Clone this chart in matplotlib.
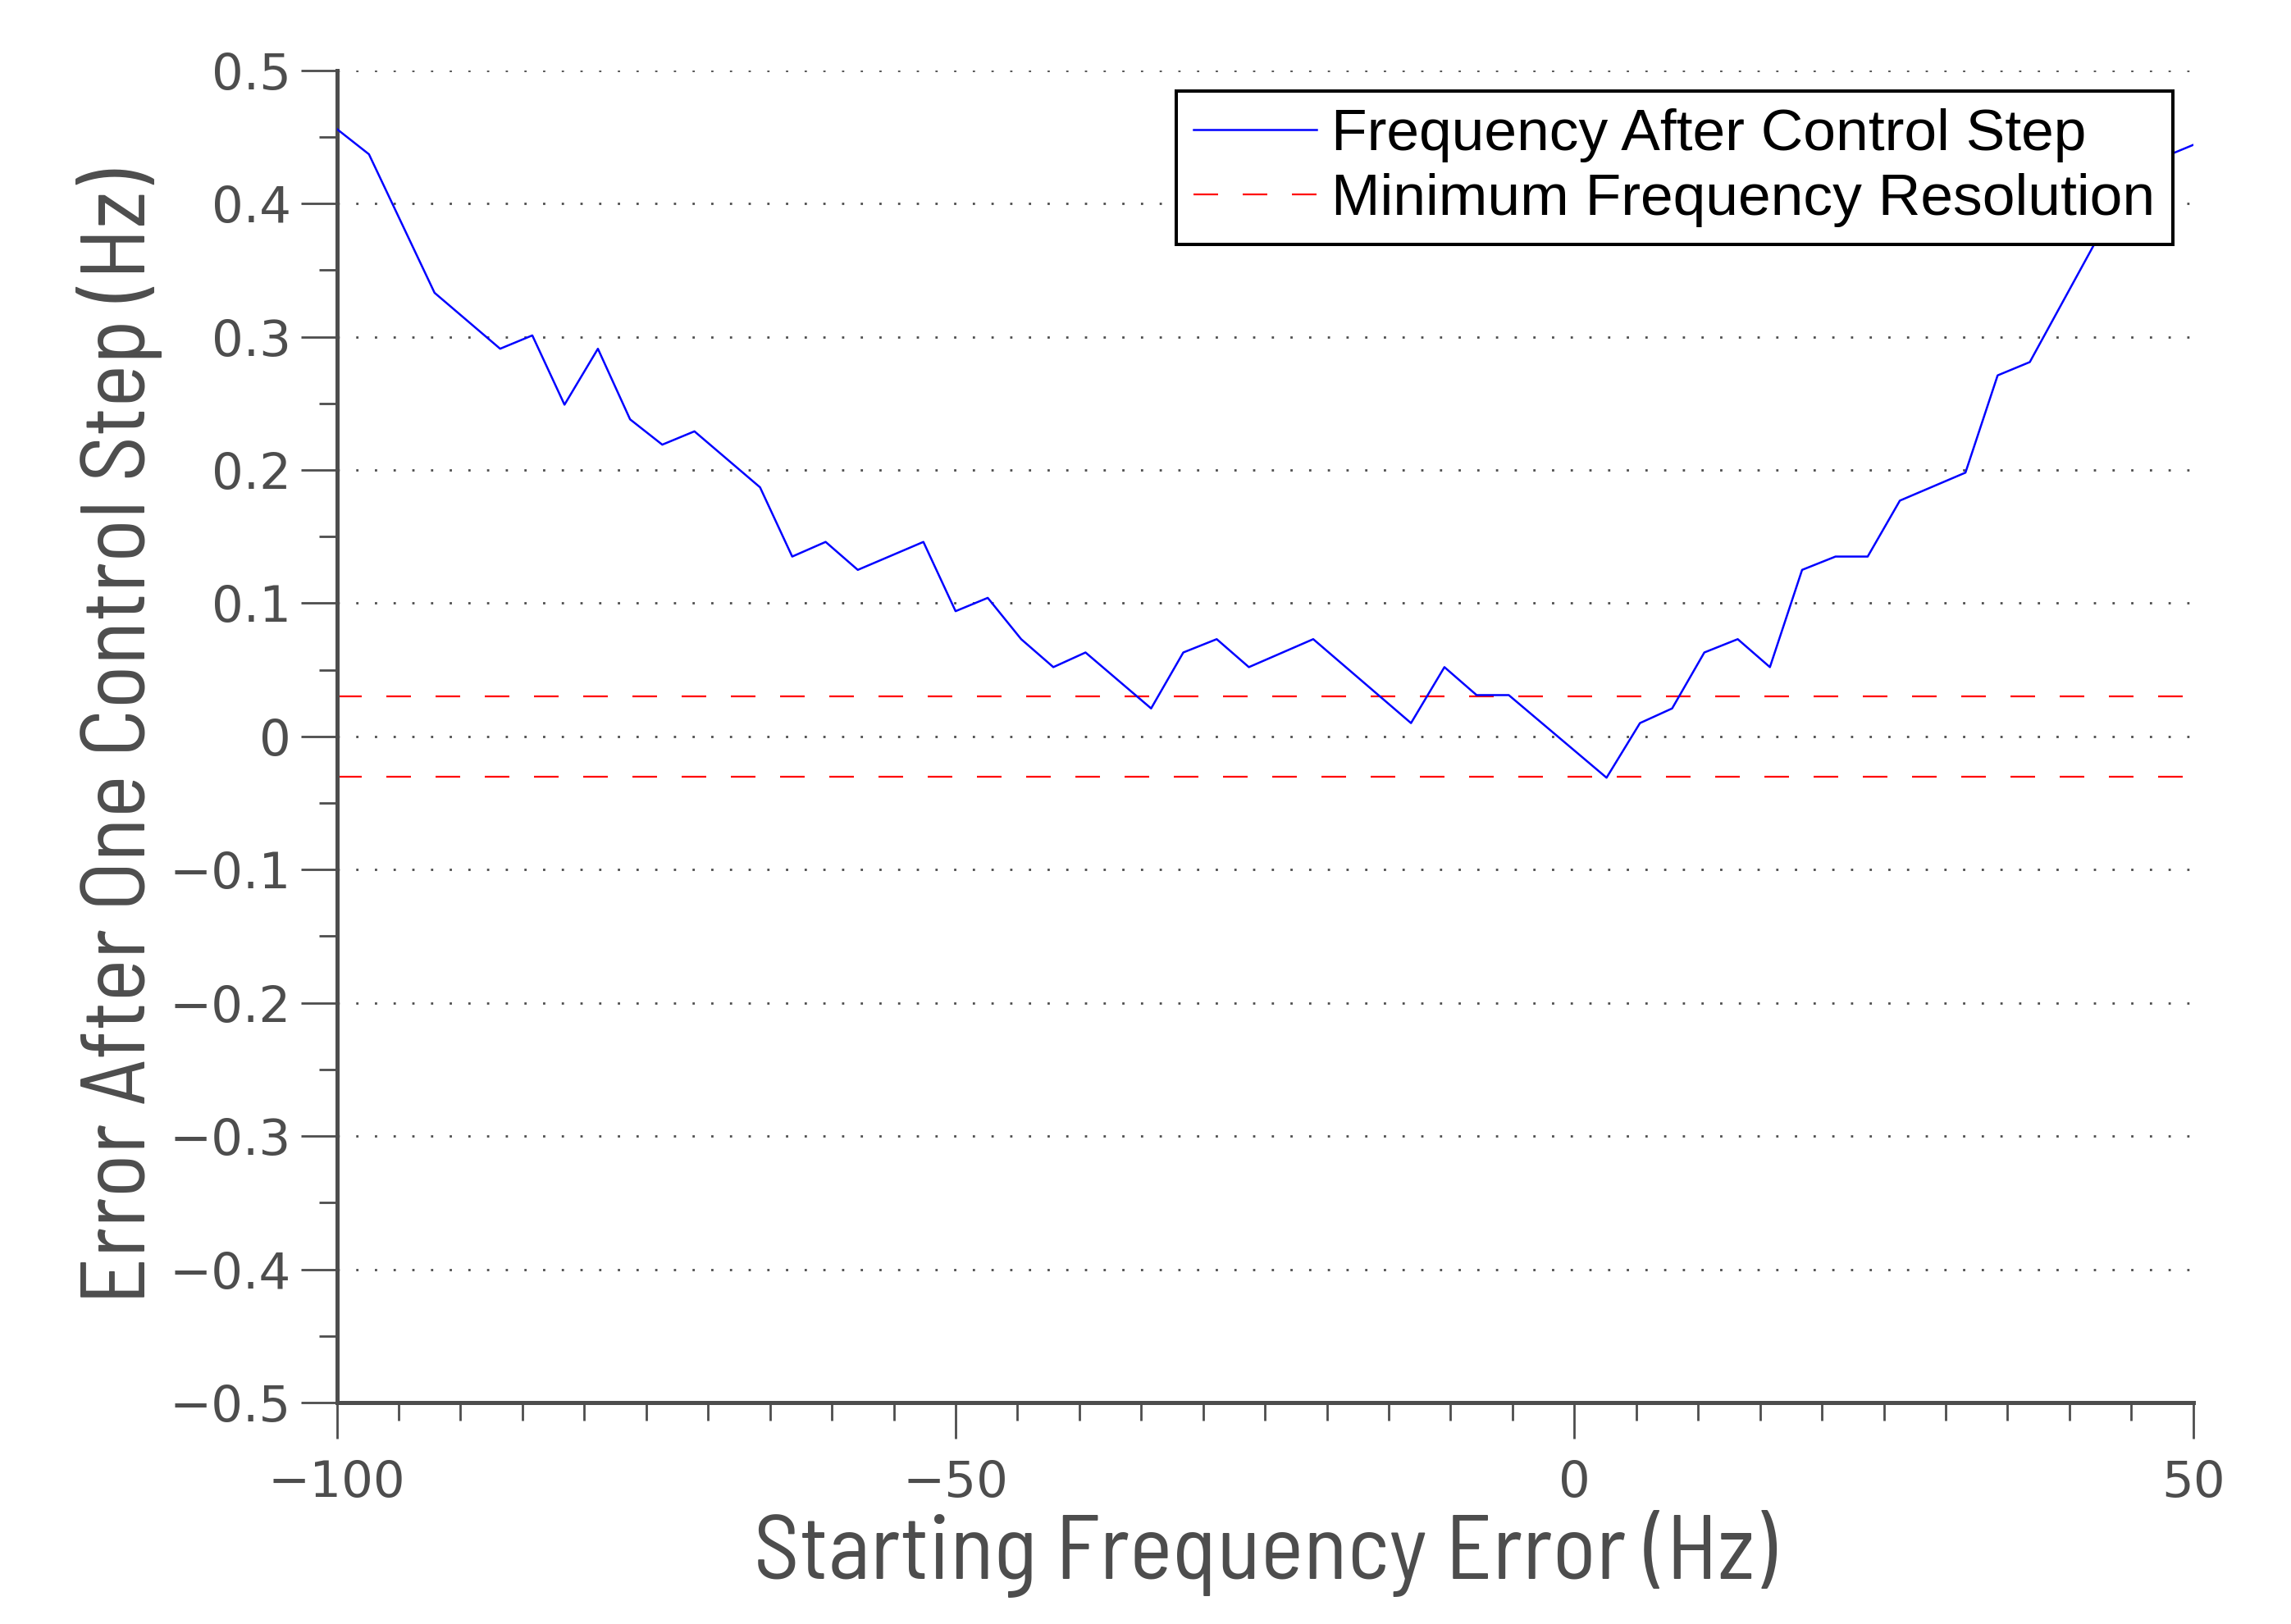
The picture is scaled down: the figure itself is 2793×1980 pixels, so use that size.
import matplotlib
matplotlib.use("Agg")
import matplotlib.pyplot as plt
from matplotlib.ticker import MultipleLocator
from matplotlib import font_manager

# ---- data (vertices of the curve) ----
start_error = [-100.0, -97.4, -92.1, -86.8, -84.2, -81.6, -78.9, -76.3, -73.7, -71.1,
               -65.8, -63.2, -60.5, -57.9, -52.6, -50.0, -47.4, -44.7, -42.1, -39.5,
               -34.2, -31.6, -28.9, -26.3, -21.1, -13.2, -10.5, -7.9, -5.3, 2.6,
               5.3, 7.9, 10.5, 13.2, 15.8, 18.4, 21.1, 23.7, 26.3, 31.6,
               34.2, 36.8, 42.1, 44.7, 47.4, 50.0]
error_after = [0.456, 0.437, 0.333, 0.291, 0.301, 0.249, 0.291, 0.238, 0.219, 0.229,
               0.187, 0.135, 0.146, 0.125, 0.146, 0.094, 0.104, 0.073, 0.052, 0.063,
               0.021, 0.063, 0.073, 0.052, 0.073, 0.010, 0.052, 0.031, 0.031, -0.031,
               0.010, 0.021, 0.063, 0.073, 0.052, 0.125, 0.135, 0.135, 0.177, 0.198,
               0.271, 0.281, 0.371, 0.410, 0.434, 0.444]
resolution = 0.03
x_limits = [-100, 50]
y_limits = [-0.5, 0.5]
x_ticks = [-100, -50, 0, 50]
y_ticks = [-0.5, -0.4, -0.3, -0.2, -0.1, 0, 0.1, 0.2, 0.3, 0.4, 0.5]
y_ticklabels = ["\u22120.5", "\u22120.4", "\u22120.3", "\u22120.2", "\u22120.1", "0",
                "0.1", "0.2", "0.3", "0.4", "0.5"]
x_ticklabels = ["\u2212100", "\u221250", "0", "50"]
legend_labels = ["Frequency After Control Step", "Minimum Frequency Resolution"]
xlabel = "Starting Frequency Error (Hz)"
ylabel = "Error After One Control Step (Hz)"

GRAY = "#4d4d4d"

installed = {f.name for f in font_manager.fontManager.ttflist}
preferred = ["Barlow Semi Condensed", "Barlow Condensed", "IBM Plex Sans Condensed",
             "Archivo Narrow"]
label_family = [n for n in preferred if n in installed] + ["DejaVu Sans"]

fig = plt.figure(figsize=(13.965, 9.9), dpi=200)
ax = fig.add_axes([0.147, 0.1364, 0.8103, 0.8203])

ax.plot(start_error, error_after, color="#0000ff", lw=0.9, label=legend_labels[0], zorder=3)
ax.axhline(resolution, color="#ff0000", lw=0.8, ls=(0, (13.5, 13.5)), label=legend_labels[1], zorder=2)
ax.axhline(-resolution, color="#ff0000", lw=0.8, ls=(0, (13.5, 13.5)), zorder=2)

ax.set_xlim(*x_limits)
ax.set_ylim(*y_limits)
ax.set_xticks(x_ticks)
ax.set_xticklabels(x_ticklabels)
ax.set_yticks(y_ticks)
ax.set_yticklabels(y_ticklabels)
ax.xaxis.set_minor_locator(MultipleLocator(5))
ax.yaxis.set_minor_locator(MultipleLocator(0.05))

for s in ["top", "right"]:
    ax.spines[s].set_visible(False)
for s in ["left", "bottom"]:
    ax.spines[s].set_color(GRAY)
    ax.spines[s].set_linewidth(1.8)

ax.tick_params(which="major", direction="out", length=16, width=1.0, color=GRAY,
               labelcolor=GRAY, labelsize=22)
ax.tick_params(which="minor", direction="out", length=8, width=1.0, color=GRAY)
ax.tick_params(axis="x", which="major", pad=9)
ax.tick_params(axis="y", which="major", pad=4)
for lab in ax.get_xticklabels() + ax.get_yticklabels():
    lab.set_family(["DejaVu Sans"])

ax.yaxis.grid(True, which="major", color=GRAY, lw=1.0, ls=(0, (1, 7.2)))
ax.set_axisbelow(True)

label_font = dict(family=label_family, size=40, color=GRAY, weight="normal")
ax.set_xlabel(xlabel, labelpad=1, **label_font)
ax.set_ylabel(ylabel, labelpad=3, **label_font)

leg = ax.legend(loc="upper right", prop=dict(family=["Liberation Sans", "DejaVu Sans"], size=25.7),
                frameon=True, fancybox=False, shadow=False, framealpha=1.0,
                edgecolor="black", handlelength=2.1, handletextpad=0.25,
                borderpad=0.3, labelspacing=0.18, borderaxespad=0.35)
leg.get_frame().set_linewidth(1.45)

fig.savefig("out.png", dpi=200)
